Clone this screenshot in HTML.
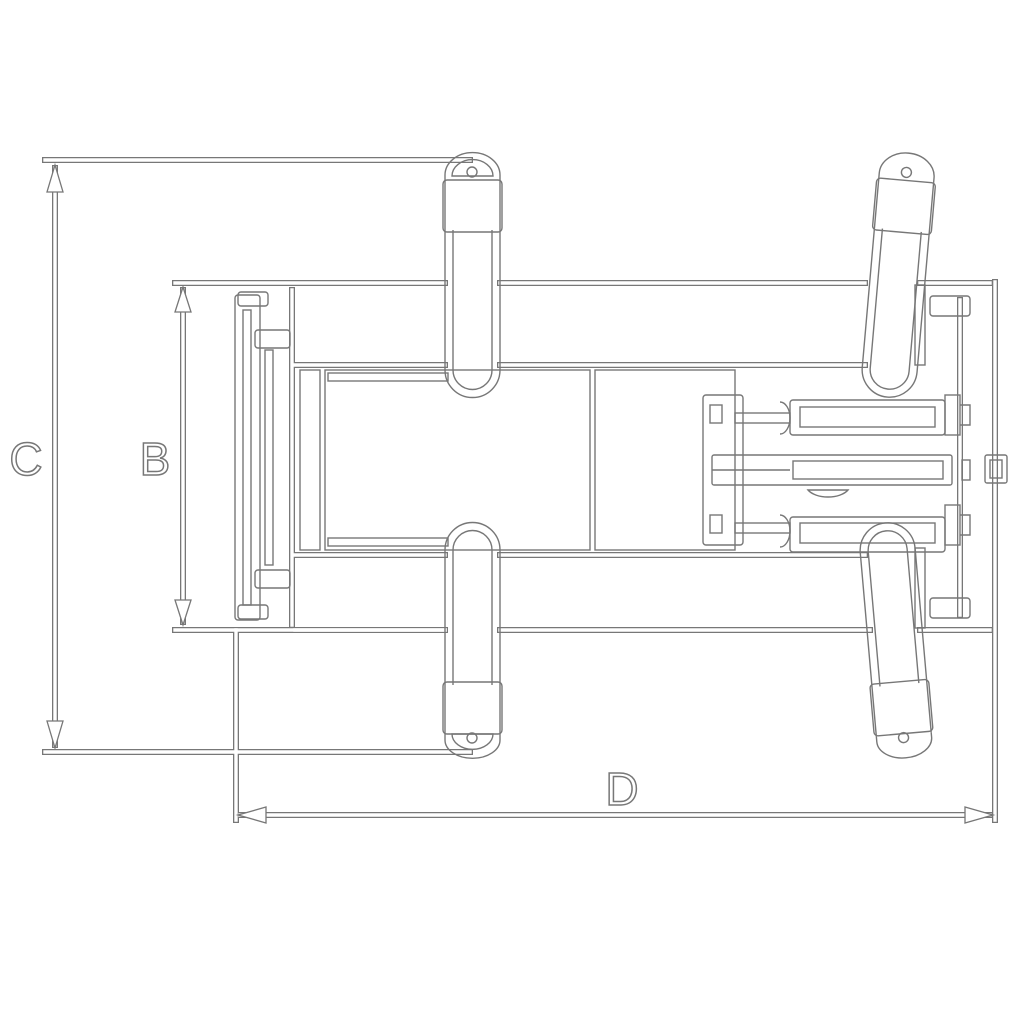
<!DOCTYPE html>
<html><head><style>html,body{margin:0;padding:0;background:#fff}svg{display:block}</style></head>
<body>
<svg width="1024" height="1024" viewBox="0 0 1024 1024" xmlns="http://www.w3.org/2000/svg">
<defs>
<g id="lines">
 <!-- C dimension -->
 <path d="M45 160 H470 M45 752 H470 M55 168 V745"/>
 <!-- B dimension -->
 <path d="M175 283 H445 M175 630 H445 M183 290 V622"/>
 <!-- D dimension -->
 <path d="M236 630 V820 M995 282 V820 M240 815 H990"/>
 <!-- frame -->
 <path d="M500 283 H865 M500 630 H870 M292 290 V625 M295 365 H445 M500 365 H865 M295 555 H445 M500 555 H865"/>
 <path d="M295 630 H445"/>
 <path d="M920 283 H990 M920 630 H990 M960 300 V615"/>
</g>
</defs>
<g fill="none" stroke="#777" stroke-width="6" stroke-linecap="square"><use href="#lines"/></g>
<g fill="none" stroke="#fff" stroke-width="3.4" stroke-linecap="square"><use href="#lines"/></g>
<!-- arrowheads -->
<g fill="#fff" stroke="#777" stroke-width="1.3">
 <path d="M55 165 L47 192 L63 192 Z"/><path d="M55 748 L47 721 L63 721 Z"/>
 <path d="M183 287 L175 312 L191 312 Z"/><path d="M183 625 L175 600 L191 600 Z"/>
 <path d="M238 815 L266 807 L266 823 Z"/><path d="M993 815 L965 807 L965 823 Z"/>
</g>
<g fill="none" stroke="#777" stroke-width="1.4">
 <!-- inner rectangles -->
 <rect x="300" y="370" width="20" height="180"/>
 <rect x="325" y="370" width="265" height="180"/>
 <rect x="328" y="373" width="120" height="8"/><rect x="328" y="538" width="120" height="8"/>
 <rect x="595" y="370" width="140" height="180"/>
 <!-- left column -->
 <rect x="235" y="295" width="25" height="325" rx="3"/>
 <rect x="243" y="310" width="8" height="295"/>
 <rect x="238" y="292" width="30" height="14" rx="3"/><rect x="238" y="605" width="30" height="14" rx="3"/>
 <rect x="255" y="330" width="35" height="18" rx="3"/><rect x="255" y="570" width="35" height="18" rx="3"/>
 <rect x="265" y="350" width="8" height="215"/>
 <!-- top-left arm -->
 <path d="M445 180 V 370 a27 27 0 0 0 55 0 V180"/>
 <path d="M453 230 V370 a19 19 0 0 0 39 0 V230"/>
 <rect x="443" y="180" width="59" height="52" rx="4"/>
 <path d="M445 180 V175 a27 22 0 0 1 55 0 V180"/>
 <path d="M452 176 a20 16 0 0 1 41 0 Z"/><circle cx="472" cy="172" r="5"/>
 <!-- bottom-left arm -->
 <path d="M445 735 V550 a27 27 0 0 1 55 0 V735"/>
 <path d="M453 685 V550 a19 19 0 0 1 39 0 V685"/>
 <rect x="443" y="682" width="59" height="52" rx="4"/>
 <path d="M445 735 V740 a27 18 0 0 0 55 0 V735"/>
 <path d="M452 734 a20 15 0 0 0 41 0 Z"/><circle cx="472" cy="738" r="5"/>
 <!-- top-right arm (tilted) -->
 <g transform="rotate(5 897 280)">
  <path d="M870 180 V370 a27 27 0 0 0 55 0 V180"/>
  <path d="M878 230 V370 a19 19 0 0 0 39 0 V230"/>
  <rect x="868" y="180" width="59" height="52" rx="4"/>
  <path d="M870 180 V175 a27 22 0 0 1 55 0 V180"/>
  <circle cx="897" cy="172" r="5"/>
 </g>
 <!-- bottom-right arm -->
 <g transform="rotate(-5 895 640)">
  <path d="M868 735 V550 a27 27 0 0 1 55 0 V735"/>
  <path d="M876 685 V550 a19 19 0 0 1 39 0 V685"/>
  <rect x="866" y="682" width="59" height="52" rx="4"/>
  <path d="M868 735 V740 a27 18 0 0 0 55 0 V735"/>
  <circle cx="895" cy="738" r="5"/>
 </g>
 <!-- right brackets -->
 <rect x="930" y="296" width="40" height="20" rx="3"/><rect x="930" y="598" width="40" height="20" rx="3"/>
 <rect x="915" y="285" width="10" height="80"/><rect x="915" y="548" width="10" height="80"/>
 <!-- cylinders -->
 <rect x="703" y="395" width="40" height="150" rx="3"/>
 <rect x="710" y="405" width="12" height="18"/><rect x="710" y="515" width="12" height="18"/>
 <rect x="790" y="400" width="155" height="35" rx="3"/><rect x="800" y="407" width="135" height="20"/>
 <rect x="735" y="413" width="55" height="10"/><path d="M780 402 a10 16 0 0 1 0 32"/>
 <rect x="790" y="517" width="155" height="35" rx="3"/><rect x="800" y="523" width="135" height="20"/>
 <rect x="735" y="523" width="55" height="10"/><path d="M780 515 a10 16 0 0 1 0 32"/>
 <rect x="712" y="455" width="240" height="30" rx="2"/><rect x="793" y="461" width="150" height="18"/>
 <path d="M712 470 H790"/>
 <rect x="945" y="395" width="15" height="40"/><rect x="945" y="505" width="15" height="40"/>
 <rect x="962" y="460" width="8" height="20"/><rect x="985" y="455" width="22" height="28" rx="2"/>
 <rect x="990" y="460" width="12" height="18"/>
 <path d="M960 405 H970 V425 H960 M960 515 H970 V535 H960"/>
 <path d="M808 490 a22 12 0 0 0 40 0 Z"/>
</g>
<!-- labels -->
<g font-family="Liberation Sans, sans-serif" font-size="46" fill="#fff" stroke="#777" stroke-width="1.5" text-anchor="middle">
 <text x="26" y="475">C</text>
 <text x="155" y="475">B</text>
 <text x="622" y="805">D</text>
</g>
</svg>
</body></html>
